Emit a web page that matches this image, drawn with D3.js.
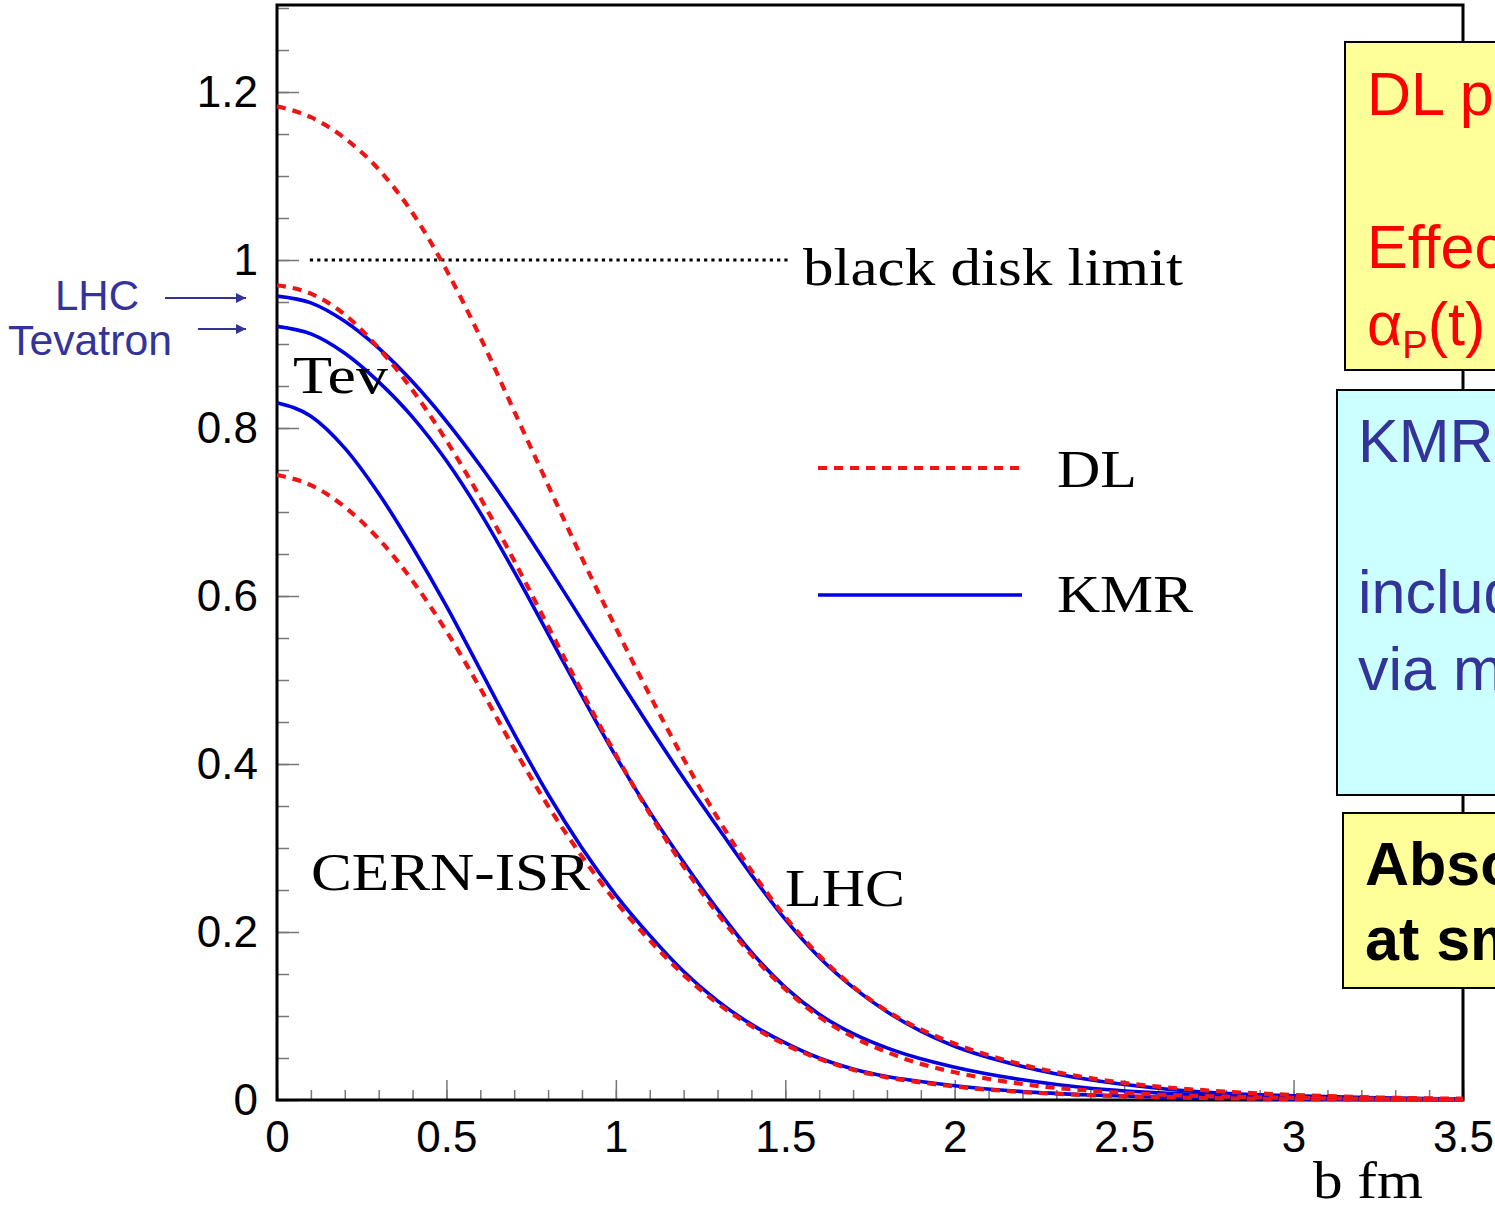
<!DOCTYPE html>
<html>
<head>
<meta charset="utf-8">
<script src="https://cdn.jsdelivr.net/npm/d3@7"></script>
<style>
  html, body { margin: 0; padding: 0; background: #fff; overflow: hidden; }
  svg { display: block; }
</style>
</head>
<body>
<svg id="chart" width="1495" height="1209"></svg>
<script>
// impact parameter b (fm)
const bValues = [0, 0.1, 0.2, 0.3, 0.4, 0.5, 0.6, 0.7, 0.8, 0.9, 1.0, 1.1, 1.2, 1.3, 1.4, 1.5,
  1.6, 1.7, 1.8, 1.9, 2.0, 2.2, 2.4, 2.6, 2.8, 3.0, 3.25, 3.5];

// DL (dashed red)
const dlLHC = [1.183, 1.170, 1.145, 1.108, 1.056, 0.988, 0.908, 0.820, 0.732, 0.645, 0.562, 0.482,
  0.406, 0.336, 0.273, 0.218, 0.172, 0.135, 0.106, 0.084, 0.067, 0.042, 0.026, 0.016, 0.010, 0.006, 0.003, 0.0015];
const dlTev = [0.970, 0.960, 0.935, 0.895, 0.845, 0.785, 0.717, 0.642, 0.564, 0.486, 0.411, 0.341,
  0.278, 0.222, 0.173, 0.132, 0.099, 0.075, 0.057, 0.043, 0.033, 0.019, 0.011, 0.0065, 0.004, 0.0025, 0.0015, 0.001];
const dlISR = [0.744, 0.732, 0.706, 0.668, 0.618, 0.558, 0.490, 0.418, 0.350, 0.290, 0.236, 0.190,
  0.149, 0.115, 0.088, 0.066, 0.049, 0.036, 0.027, 0.021, 0.016, 0.0095, 0.0057, 0.0034, 0.002, 0.0012, 0.0007, 0.0004];

// KMR (solid blue)
const kmrLHC = [0.957, 0.949, 0.927, 0.895, 0.855, 0.808, 0.755, 0.697, 0.635, 0.571, 0.507, 0.444,
  0.383, 0.325, 0.268, 0.215, 0.170, 0.134, 0.105, 0.082, 0.064, 0.040, 0.024, 0.014, 0.008, 0.005, 0.0025, 0.0012];
const kmrTev = [0.921, 0.912, 0.889, 0.855, 0.813, 0.761, 0.699, 0.629, 0.555, 0.481, 0.409, 0.343,
  0.283, 0.227, 0.176, 0.134, 0.102, 0.079, 0.062, 0.049, 0.039, 0.024, 0.014, 0.0085, 0.005, 0.003, 0.0017, 0.001];
const kmrISR = [0.830, 0.814, 0.776, 0.722, 0.658, 0.588, 0.512, 0.436, 0.364, 0.300, 0.244, 0.196,
  0.153, 0.118, 0.090, 0.068, 0.050, 0.037, 0.028, 0.022, 0.017, 0.010, 0.006, 0.0035, 0.002, 0.0012, 0.0007, 0.0004];

const xMajor = [0, 0.5, 1, 1.5, 2, 2.5, 3, 3.5];
const yMajor = [0, 0.2, 0.4, 0.6, 0.8, 1, 1.2];

const svg = d3.select("#chart");

const x = d3.scaleLinear().domain([0, 3.5]).range([277, 1463]);
const y = d3.scaleLinear().domain([0, 1.3036]).range([1100, 5]);

const axisFont = "'Liberation Sans', Arial, sans-serif";
const serifFont = "'Liberation Serif', 'Times New Roman', serif";

// minor ticks
svg.append("g")
  .attr("transform", "translate(277,0)")
  .call(d3.axisLeft(y).tickValues(d3.range(0, 1.301, 0.05)).tickSize(-12).tickFormat(""))
  .call(g => g.select(".domain").remove())
  .call(g => g.selectAll("line").attr("stroke", "#777").attr("stroke-width", 1.5));
svg.append("g")
  .attr("transform", "translate(0,1100)")
  .call(d3.axisBottom(x).tickValues(d3.range(0, 3.501, 0.1)).tickSize(-10).tickFormat(""))
  .call(g => g.select(".domain").remove())
  .call(g => g.selectAll("line").attr("stroke", "#777").attr("stroke-width", 1.5));

// major ticks + labels
svg.append("g")
  .attr("transform", "translate(277,0)")
  .call(d3.axisLeft(y).tickValues(yMajor).tickSize(-22).tickPadding(19).tickFormat(d3.format("")))
  .call(g => g.select(".domain").remove())
  .call(g => g.selectAll("line").attr("stroke", "#777").attr("stroke-width", 1.5))
  .call(g => g.selectAll("text").attr("font-family", axisFont).attr("font-size", 44).attr("fill", "#000"));
svg.append("g")
  .attr("transform", "translate(0,1100)")
  .call(d3.axisBottom(x).tickValues(xMajor).tickSize(-20).tickPadding(21).tickFormat(d3.format("")))
  .call(g => g.select(".domain").remove())
  .call(g => g.selectAll("line").attr("stroke", "#777").attr("stroke-width", 1.5))
  .call(g => g.selectAll("text").attr("font-family", axisFont).attr("font-size", 44).attr("fill", "#000"));

// frame
svg.append("rect")
  .attr("x", x(0)).attr("y", y(1.3036))
  .attr("width", x(3.5) - x(0)).attr("height", y(0) - y(1.3036))
  .attr("fill", "none").attr("stroke", "#000").attr("stroke-width", 3);

// black disk limit
svg.append("line")
  .attr("x1", x(0.097)).attr("x2", x(1.51))
  .attr("y1", y(1)).attr("y2", y(1))
  .attr("stroke", "#000").attr("stroke-width", 3.2).attr("stroke-dasharray", "3.2,4.1");

const line = d3.line()
  .x((d, i) => x(bValues[i]))
  .y(d => y(d))
  .curve(d3.curveMonotoneX);

const kmrSeries = [kmrLHC, kmrTev, kmrISR];
const dlSeries = [dlLHC, dlTev, dlISR];

kmrSeries.forEach(s => {
  svg.append("path").attr("d", line(s))
    .attr("fill", "none").attr("stroke", "#0000e0").attr("stroke-width", 3.6);
});
dlSeries.forEach(s => {
  svg.append("path").attr("d", line(s))
    .attr("fill", "none").attr("stroke", "#f01414").attr("stroke-width", 4.2)
    .attr("stroke-dasharray", "9,7");
});

// legend
svg.append("line").attr("x1", 818).attr("x2", 1022).attr("y1", 468).attr("y2", 468)
  .attr("stroke", "#f01414").attr("stroke-width", 4.2).attr("stroke-dasharray", "9,7");
svg.append("line").attr("x1", 818).attr("x2", 1022).attr("y1", 595).attr("y2", 595)
  .attr("stroke", "#0000e0").attr("stroke-width", 3.6);

const serifLabels = [
  {t: "black disk limit", x: 803, y: 285, w: 380},
  {t: "Tev", x: 293, y: 393, w: 95},
  {t: "DL", x: 1057, y: 487, w: 80},
  {t: "KMR", x: 1057, y: 612, w: 136},
  {t: "CERN-ISR", x: 311, y: 890, w: 279},
  {t: "LHC", x: 785, y: 906, w: 120},
  {t: "b fm", x: 1313, y: 1198, w: 110}
];
svg.selectAll("text.serif").data(serifLabels).enter().append("text")
  .attr("class", "serif")
  .attr("x", d => d.x).attr("y", d => d.y)
  .attr("textLength", d => d.w).attr("lengthAdjust", "spacingAndGlyphs")
  .attr("font-family", serifFont).attr("font-size", 53).attr("fill", "#000")
  .text(d => d.t);

// left annotations with arrows
const purple = "#333399";
svg.append("defs").append("marker")
  .attr("id", "arr").attr("viewBox", "0 0 10 10").attr("refX", 10).attr("refY", 5)
  .attr("markerWidth", 5.5).attr("markerHeight", 5).attr("markerUnits", "strokeWidth")
  .attr("orient", "auto")
  .append("path").attr("d", "M0,0 L10,5 L0,10 Z").attr("fill", purple);
svg.append("text").attr("x", 55).attr("y", 310).attr("font-family", axisFont).attr("font-size", 42)
  .attr("fill", purple).text("LHC");
svg.append("text").attr("x", 8).attr("y", 355).attr("font-family", axisFont).attr("font-size", 42)
  .attr("textLength", 164).attr("lengthAdjust", "spacingAndGlyphs")
  .attr("fill", purple).text("Tevatron");
svg.append("line").attr("x1", 165).attr("x2", 246).attr("y1", 298).attr("y2", 298)
  .attr("stroke", purple).attr("stroke-width", 2).attr("marker-end", "url(#arr)");
svg.append("line").attr("x1", 198).attr("x2", 246).attr("y1", 329).attr("y2", 329)
  .attr("stroke", purple).attr("stroke-width", 2).attr("marker-end", "url(#arr)");

// right-hand boxes
svg.append("rect").attr("x", 1345).attr("y", 42).attr("width", 200).attr("height", 328)
  .attr("fill", "#ffff99").attr("stroke", "#000").attr("stroke-width", 2);
svg.append("rect").attr("x", 1337).attr("y", 390).attr("width", 200).attr("height", 405)
  .attr("fill", "#ccffff").attr("stroke", "#000").attr("stroke-width", 2);
svg.append("rect").attr("x", 1343).attr("y", 813).attr("width", 200).attr("height", 175)
  .attr("fill", "#ffff99").attr("stroke", "#000").attr("stroke-width", 2);

const boxText = (t, px, py, color, weight) => svg.append("text")
  .attr("x", px).attr("y", py).attr("font-family", axisFont).attr("font-size", 61)
  .attr("font-weight", weight || "normal").attr("fill", color).text(t);

boxText("DL pole", 1367, 115, "#ff0000");
boxText("Effective", 1367, 268, "#ff0000");
const alpha = boxText("α", 1367, 345, "#ff0000");
alpha.append("tspan").attr("font-size", 38).attr("dy", 13).text("P");
alpha.append("tspan").attr("dy", -13).text("(t)");
boxText("KMR", 1358, 462, purple);
boxText("include", 1358, 613, purple);
boxText("via multi", 1358, 690, purple);
boxText("Absorption", 1365, 885, "#000", "bold");
boxText("at small b", 1365, 960, "#000", "bold");
</script>
</body>
</html>
